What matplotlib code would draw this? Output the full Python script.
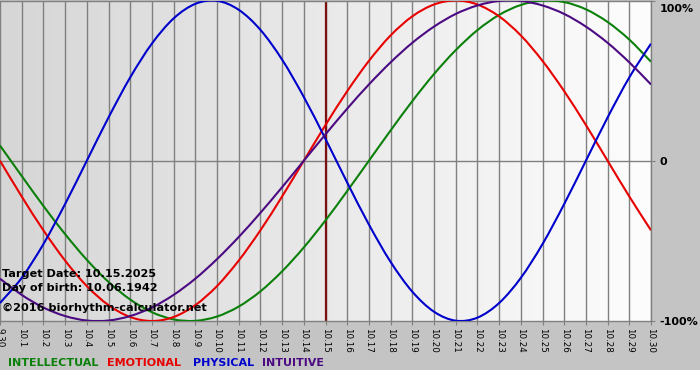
import numpy as np
import matplotlib
matplotlib.use("Agg")
import matplotlib.pyplot as plt
import matplotlib.transforms as mtransforms
from matplotlib.colors import LinearSegmentedColormap
from matplotlib.patches import Rectangle, PathPatch
from matplotlib.path import Path

# day labels along the x axis (09.30 .. 10.30)
day_labels = ["9.30"] + [f"10.{d}" for d in range(1, 31)]

# biorhythm values in percent, one per day
physical = [-88.8, -73.1, -52.0, -27.0, 0.0, 27.0, 52.0, 73.1, 88.8, 97.9,
            99.8, 94.2, 81.7, 63.1, 39.8, 13.6, -13.6, -39.8, -63.1, -81.7,
            -94.2, -99.8, -97.9, -88.8, -73.1, -52.0, -27.0, 0.0, 27.0, 52.0,
            73.1]
emotional = [0.0, -22.3, -43.4, -62.3, -78.2, -90.1, -97.5, -100.0, -97.5, -90.1,
             -78.2, -62.3, -43.4, -22.3, 0.0, 22.3, 43.4, 62.3, 78.2, 90.1,
             97.5, 100.0, 97.5, 90.1, 78.2, 62.3, 43.4, 22.3, 0.0, -22.3,
             -43.4]
intellectual = [9.5, -9.5, -28.2, -45.8, -61.8, -75.6, -86.6, -94.5, -99.0, -99.9,
                -97.2, -91.0, -81.5, -69.0, -54.1, -37.2, -18.9, 0.0, 18.9, 37.2,
                54.1, 69.0, 81.5, 91.0, 97.2, 99.9, 99.0, 94.5, 86.6, 75.6,
                61.8]
intuitive = [-73.6, -83.7, -91.6, -96.9, -99.7, -99.7, -96.9, -91.6, -83.7, -73.6,
             -61.4, -47.6, -32.5, -16.5, 0.0, 16.5, 32.5, 47.6, 61.4, 73.6,
             83.7, 91.6, 96.9, 99.7, 99.7, 96.9, 91.6, 83.7, 73.6, 61.4,
             47.6]

target_day = "10.15"
target_date = "10.15.2025"
birth_date = "10.06.1942"

series = [("INTELLECTUAL", intellectual, "#0a800a"),
          ("EMOTIONAL", emotional, "#e80000"),
          ("PHYSICAL", physical, "#0000cc"),
          ("INTUITIVE", intuitive, "#4b0a82")]


def smooth_path(xs, ys):
    # Catmull-Rom through the points, drawn as cubic bezier segments
    xs = np.asarray(xs, float)
    ys = np.asarray(ys, float)
    pts = np.column_stack([xs, ys])
    ext = np.vstack([2 * pts[0] - pts[1], pts, 2 * pts[-1] - pts[-2]])
    verts = [pts[0]]
    codes = [Path.MOVETO]
    for i in range(1, len(ext) - 2):
        p0, p1, p2, p3 = ext[i - 1], ext[i], ext[i + 1], ext[i + 2]
        verts += [p1 + (p2 - p0) / 6, p2 - (p3 - p1) / 6, p2]
        codes += [Path.CURVE4] * 3
    return Path(verts, codes)


W, H = 700, 380
fig = plt.figure(figsize=(W / 100, H / 100), dpi=100, facecolor="white")

# ---- figure background: grey margin + bottom gradient band ----
bg = fig.add_axes([0, 0, 1, 1], zorder=-10)
bg.add_patch(Rectangle((0, 0), W, 370, color="#c4c4c4", lw=0))
band_cmap = LinearSegmentedColormap.from_list("band", ["#f5f5f5", "#c4c4c4"])
bg.imshow(np.linspace(0, 1, 256)[None, :], extent=(0, W, 370, 321),
          cmap=band_cmap, aspect="auto", interpolation="bicubic")
bg.set_xlim(0, W)
bg.set_ylim(H, 0)
bg.axis("off")

# ---- plot area ----
x = np.arange(len(day_labels))
ax = fig.add_axes([0, 1 - 321 / H, 651 / W, 320.5 / H])
ax.set_facecolor("none")
plot_cmap = LinearSegmentedColormap.from_list("plot", ["#d6d6d6", "#fdfdfd"])
ax.imshow(np.linspace(0, 1, 256)[None, :], extent=(x[0], x[-1], -100, 100),
          cmap=plot_cmap, aspect="auto", zorder=0)
ax.set_xlim(x[0], x[-1])
ax.set_ylim(-100, 100)

for xi in x:
    ax.axvline(xi, color="#808080", lw=1.0, zorder=1)
ax.axhline(0, color="#808080", lw=1.0, zorder=1)

ax.axvline(day_labels.index(target_day), color="#7a1010", lw=1.6, zorder=2)

for name, vals, col in series:
    ax.add_patch(PathPatch(smooth_path(x, vals), facecolor="none",
                           edgecolor=col, lw=1.5, zorder=3))

ax.spines["left"].set_visible(False)
for side in ["top", "bottom", "right"]:
    ax.spines[side].set_color("#808080")
    ax.spines[side].set_linewidth(1.0)

ax.set_xticks(x)
ax.set_xticklabels(day_labels, rotation=270, fontsize=6.3, family="DejaVu Sans")
ax.tick_params(axis="x", length=3, color="#808080", pad=2, labelcolor="black")

ax.yaxis.tick_right()
ax.set_yticks([-100, 0, 100])
ax.set_yticklabels(["-100%", "0", "100%"], fontsize=8, fontweight="bold")
ax.tick_params(axis="y", length=3, color="#808080", pad=3)
lab100 = ax.get_yticklabels()[2]
lab100.set_va("top")
lab100.set_transform(lab100.get_transform() +
                     mtransforms.ScaledTranslation(0, -3 / 100, fig.dpi_scale_trans))

# info text inside the plot
info = [f"Target Date: {target_date}", f"Day of birth: {birth_date}",
        "\u00a92016 biorhythm-calculator.net"]
for txt, yb in zip(info, [277, 291, 311]):
    fig.text(2 / W, 1 - yb / H, txt, fontsize=8.1, fontweight="bold",
             color="black", va="baseline", ha="left", zorder=5)

# legend at the bottom
for (name, vals, col), xl in zip(series, [8, 107, 193, 262]):
    fig.text(xl / W, 1 - 366 / H, name, fontsize=8, fontweight="bold",
             color=col, va="baseline", ha="left")

fig.savefig("out.png", dpi=100, facecolor="white")
